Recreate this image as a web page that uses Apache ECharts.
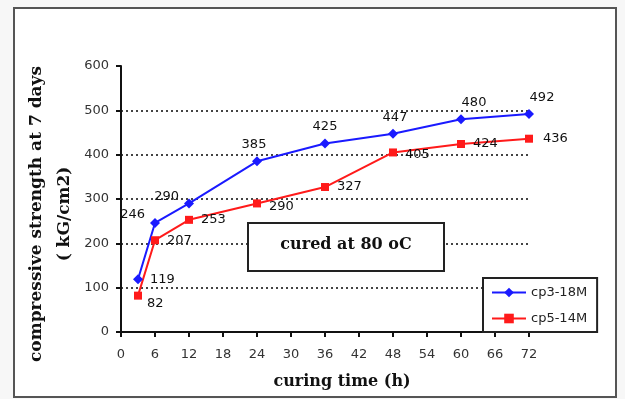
<!DOCTYPE html>
<html>
<head>
<meta charset="utf-8">
<script src="https://cdn.jsdelivr.net/npm/echarts@6/dist/echarts.min.js"></script>
<style>
  html, body { margin: 0; padding: 0; background: #f7f7f7; }
  #chart { width: 625px; height: 399px; }
</style>
</head>
<body>
<div id="chart"></div>
<script>
// curing time (h)
const curingTime = [3, 6, 12, 24, 36, 48, 60, 72];
const cp3_18M = [119, 246, 290, 385, 425, 447, 480, 492];
const cp5_14M = [82, 207, 253, 290, 327, 405, 424, 436];
const seriesNames = ['cp3-18M', 'cp5-14M'];
const yTitle = 'compressive strength at 7 days\n( kG/cm2)';
const xTitle = 'curing time (h)';
const noteText = 'cured at 80 oC';

window.addEventListener('load', function () {
    let chart = echarts.init(document.getElementById('chart'));

    // label placement per point (layout only)
    let blueLabels = [
        { position: 'right', distance: 7 },
        { position: 'left', offset: [0, -8] },
        { position: 'left', offset: [0, -7] },
        { position: 'top', offset: [-3, 0] },
        { position: 'top' },
        { position: 'top', offset: [2, 0] },
        { position: 'top', offset: [13, 0] },
        { position: 'top', offset: [13, 0] }
    ];
    let redLabels = [
        { position: 'right', offset: [0, 8] },
        { position: 'right', distance: 8 },
        { position: 'right', distance: 8 },
        { position: 'right', distance: 8, offset: [0, 3] },
        { position: 'right', distance: 8 },
        { position: 'right', distance: 8, offset: [0, 2] },
        { position: 'right', distance: 8 },
        { position: 'right', distance: 10 }
    ];

    function build(vals, labels) {
        return vals.map((v, i) => ({ value: [curingTime[i], v], label: labels[i] }));
    }

    let labelFont = { show: true, color: '#111', fontFamily: 'DejaVu Sans', fontSize: 13 };

    let option = {
        backgroundColor: '#f7f7f7',
        animation: false,
        grid: { left: 121, right: 96, top: 66, bottom: 67 },
        legend: {
            orient: 'vertical',
            left: 483,
            top: 278,
            width: 116,
            padding: [8, 10, 7, 8],
            itemGap: 13,
            itemWidth: 34,
            itemHeight: 12,
            backgroundColor: '#fff',
            borderColor: '#222',
            borderWidth: 2,
            textStyle: { fontFamily: 'DejaVu Sans', fontSize: 13, color: '#222' },
            data: seriesNames
        },
        xAxis: {
            type: 'value',
            min: 0,
            max: 72,
            interval: 6,
            axisLine: { lineStyle: { color: '#111', width: 2 } },
            axisTick: { length: 5, lineStyle: { color: '#111', width: 2 } },
            axisLabel: { margin: 16, color: '#333', fontFamily: 'DejaVu Sans', fontSize: 13 },
            splitLine: { show: false }
        },
        yAxis: {
            type: 'value',
            min: 0,
            max: 600,
            interval: 100,
            axisLine: { show: true, lineStyle: { color: '#111', width: 2 } },
            axisTick: { show: true, length: 5, lineStyle: { color: '#111', width: 2 } },
            axisLabel: { margin: 12, color: '#333', fontFamily: 'DejaVu Sans', fontSize: 13 },
            splitLine: {
                show: true,
                lineStyle: {
                    color: ['#444', '#444', '#444', '#444', '#444', '#444', 'rgba(0,0,0,0)'],
                    width: 2,
                    type: [2, 3]
                }
            }
        },
        graphic: [
            {
                type: 'rect',
                z: -10,
                shape: { x: 14, y: 8, width: 602, height: 389 },
                style: { fill: '#fff', stroke: '#555', lineWidth: 2 }
            },
            {
                type: 'text',
                x: 51,
                y: 214,
                rotation: Math.PI / 2,
                style: {
                    text: yTitle,
                    fontFamily: 'DejaVu Serif',
                    fontWeight: 'bold',
                    fontSize: 17,
                    lineHeight: 28,
                    fill: '#111',
                    align: 'center',
                    verticalAlign: 'middle'
                }
            },
            {
                type: 'text',
                x: 342,
                y: 382,
                style: {
                    text: xTitle,
                    fontFamily: 'DejaVu Serif',
                    fontWeight: 'bold',
                    fontSize: 16,
                    fill: '#111',
                    align: 'center',
                    verticalAlign: 'middle'
                }
            },
            {
                type: 'rect',
                shape: { x: 248, y: 223, width: 196, height: 48 },
                style: { fill: '#fff', stroke: '#222', lineWidth: 2 },
                z: 10
            },
            {
                type: 'text',
                x: 346,
                y: 245,
                z: 11,
                style: {
                    text: noteText,
                    fontFamily: 'DejaVu Serif',
                    fontWeight: 'bold',
                    fontSize: 16,
                    fill: '#111',
                    align: 'center',
                    verticalAlign: 'middle'
                }
            }
        ],
        series: [
            {
                name: seriesNames[0],
                type: 'line',
                data: build(cp3_18M, blueLabels),
                symbol: 'diamond',
                symbolSize: 10,
                lineStyle: { color: '#1a1aff', width: 2 },
                itemStyle: { color: '#1a1aff' },
                label: labelFont
            },
            {
                name: seriesNames[1],
                type: 'line',
                data: build(cp5_14M, redLabels),
                symbol: 'rect',
                symbolSize: 8,
                lineStyle: { color: '#ff1a1a', width: 2 },
                itemStyle: { color: '#ff1a1a' },
                label: labelFont
            }
        ]
    };

    chart.setOption(option);
});
</script>
</body>
</html>
